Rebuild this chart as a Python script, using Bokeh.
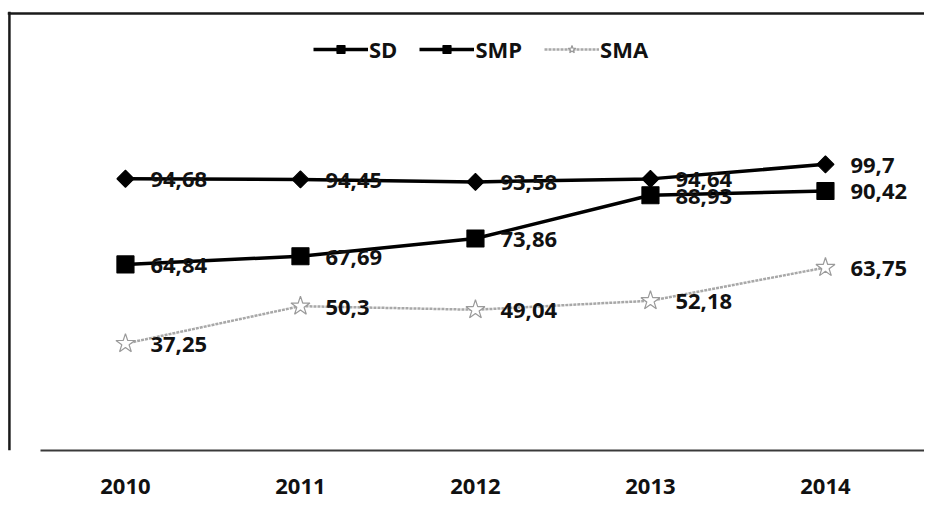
import math
from bokeh.plotting import figure
from bokeh.models import ColumnDataSource, Range1d, FixedTicker, Legend, LegendItem, Span
from bokeh.core.properties import value
from bokeh.embed import file_html
from bokeh.resources import INLINE

years = [2010, 2011, 2012, 2013, 2014]
sd = [94.68, 94.45, 93.58, 94.64, 99.7]
smp = [64.84, 67.69, 73.86, 88.93, 90.42]
sma = [37.25, 50.3, 49.04, 52.18, 63.75]
series_names = ["SD", "SMP", "SMA"]

FONT = "Open Sans"

X0, X1 = 2009.326, 2014.566
Y0, Y1 = 0, 152.96

p = figure(width=924, height=499, output_backend="svg", toolbar_location=None,
           x_range=Range1d(X0, X1), y_range=Range1d(Y0, Y1),
           min_border_left=7, min_border_right=0, min_border_top=11, min_border_bottom=49)
p.outline_line_color = None
p.background_fill_color = "white"
p.border_fill_color = "white"
p.grid.visible = False
p.yaxis.visible = False

# chart-area border (left and top edges)
p.add_layout(Span(location=2009.337, dimension="height", line_color="#1a1a1a", line_width=2.5))
p.add_layout(Span(location=152.26, dimension="width", line_color="#1a1a1a", line_width=2.5))

ax = p.xaxis[0]
ax.ticker = FixedTicker(ticks=years)
ax.bounds = (2009.515, X1)
ax.axis_line_color = "#3a3a3a"
ax.axis_line_width = 2
ax.major_tick_line_color = None
ax.minor_tick_line_color = None
ax.major_label_standoff = 22
ax.major_label_text_font = FONT
ax.major_label_text_font_style = "bold"
ax.major_label_text_font_size = "22px"
ax.major_label_text_color = "#111111"

def fmt(v):
    return f"{v:g}".replace(".", ",")

items = []
styles = [
    (sd, "black", "square", 12, math.pi / 4, "black", "black", 3.5, "solid"),
    (smp, "black", "square", 17, 0, "black", "black", 3.5, "solid"),
    (sma, "#a8a8a8", "star", 20, 0, "#9a9a9a", None, 2.5, "3 1"),
]
for name, (vals, lc, marker, size, ang, mlc, mfc, lw, dash) in zip(series_names, styles):
    src = ColumnDataSource(dict(x=years, y=vals, lab=[fmt(v) for v in vals]))
    ln = p.line("x", "y", source=src, line_color=lc, line_width=lw, line_dash=dash)
    sc = p.scatter("x", "y", source=src, marker=marker, size=size, angle=ang,
                   line_color=mlc, fill_color=mfc if mfc else "white", line_width=1.2)
    p.text("x", "y", text="lab", source=src, x_offset=25, y_offset=1,
           text_baseline="middle", text_align="left",
           text_font=value(FONT), text_font_style="bold", text_font_size="22px",
           text_color="#111111")
    items.append(LegendItem(label=name, renderers=[ln, sc]))

legend = Legend(items=items, orientation="horizontal", location=(306, 386),
                glyph_width=55, glyph_height=20, label_standoff=1, spacing=22,
                label_text_font=FONT, label_text_font_style="bold",
                label_text_font_size="22px", label_text_color="#111111",
                border_line_color=None, background_fill_alpha=0,
                padding=4, margin=0)
p.add_layout(legend)

open("out.html", "w").write(file_html(p, INLINE))
